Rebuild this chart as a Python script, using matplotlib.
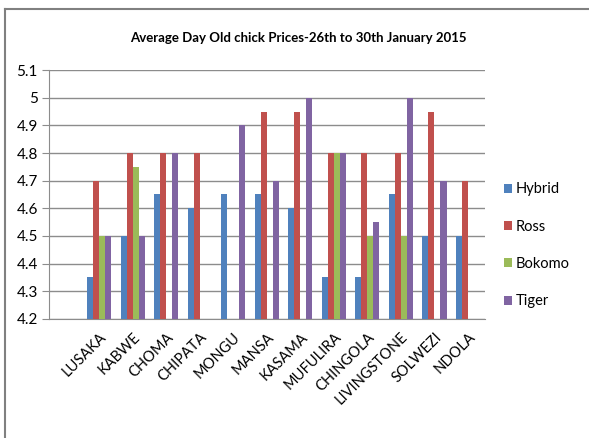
import numpy as np
import matplotlib
matplotlib.use('Agg')
import matplotlib.pyplot as plt
from matplotlib.lines import Line2D

nan = np.nan
towns = ['LUSAKA', 'KABWE', 'CHOMA', 'CHIPATA', 'MONGU', 'MANSA', 'KASAMA',
         'MUFULIRA', 'CHINGOLA', 'LIVINGSTONE', 'SOLWEZI', 'NDOLA']
hybrid = [4.35, 4.5, 4.65, 4.6, 4.65, 4.65, 4.6, 4.35, 4.35, 4.65, 4.5, 4.5]
ross   = [4.7, 4.8, 4.8, 4.8, nan, 4.95, 4.95, 4.8, 4.8, 4.8, 4.95, 4.7]
bokomo = [4.5, 4.75, nan, nan, nan, nan, nan, 4.8, 4.5, 4.5, nan, nan]
tiger  = [4.5, 4.5, 4.8, nan, 4.9, 4.7, 5.0, 4.8, 4.55, 5.0, 4.7, nan]
yticks = [4.2, 4.3, 4.4, 4.5, 4.6, 4.7, 4.8, 4.9, 5.0, 5.1]

series = [('Hybrid', hybrid, '#4F81BD'), ('Ross', ross, '#C0504D'),
          ('Bokomo', bokomo, '#9BBB59'), ('Tiger', tiger, '#8064A2')]

plt.rcParams['font.family'] = ['Lato', 'DejaVu Sans']

fig = plt.figure(figsize=(5.89, 4.38), dpi=100)
ax = fig.add_axes([0.083, 0.272, 0.740, 0.568])

x = np.arange(len(towns))
w = 0.18
for i, (name, vals, col) in enumerate(series):
  ax.bar(x + (i - 1.5) * w, np.array(vals) - 4.2, w, bottom=4.2, color=col,
         label=name, zorder=3)

ax.set_xlim(-1.5, 11.5)
ax.set_ylim(4.2, 5.1)
ax.set_yticks(yticks)
ax.set_yticklabels(['%g' % t for t in yticks], fontsize=11)
ax.yaxis.grid(True, color='#8c8c8c', linewidth=1.0, zorder=0)
ax.set_xticks(x)
ax.set_xticklabels(towns, rotation=45, ha='right', va='top', fontsize=10.5,
                   rotation_mode='anchor')
ax.tick_params(axis='x', length=0, pad=8)
ax.tick_params(axis='y', length=5, color='#8c8c8c', pad=3)
for s in ['top', 'right']:
  ax.spines[s].set_visible(False)
for s in ['left', 'bottom']:
  ax.spines[s].set_color('#8c8c8c')

fig.text(0.506, 0.913, 'Average Day Old chick Prices-26th to 30th January 2015',
         fontsize=9.5, fontweight='bold', ha='center', va='center')

leg = fig.legend(loc='center left', bbox_to_anchor=(0.855, 0.44), frameon=False,
                 fontsize=10.5, labelspacing=1.6, handlelength=0.55,
                 handleheight=0.55, handletextpad=0.25, borderpad=0,
                 borderaxespad=0)

# chart area border (top and left)
fig.add_artist(Line2D([0.008, 1.0], [0.98, 0.98], color='#808080', lw=1.5,
                      transform=fig.transFigure))
fig.add_artist(Line2D([0.008, 0.008], [0.0, 0.98], color='#808080', lw=1.5,
                      transform=fig.transFigure))

fig.savefig('out.png', dpi=100)
